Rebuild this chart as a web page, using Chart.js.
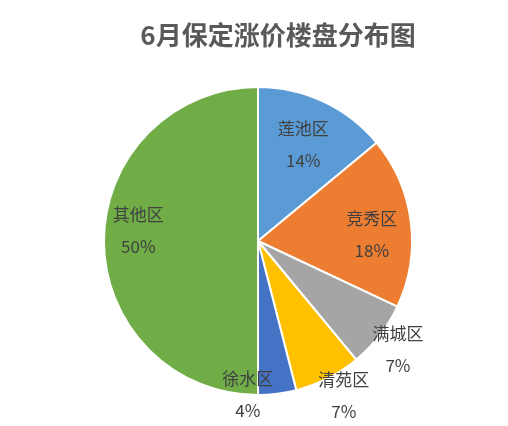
<!DOCTYPE html>
<html>
<head>
<meta charset="utf-8">
<script src="https://cdn.jsdelivr.net/npm/chart.js@4"></script>
<style>
  html, body { margin: 0; padding: 0; background: #fff; }
  #wrap { width: 508px; height: 426px; }
</style>
</head>
<body>
<div id="wrap"><canvas id="pieChart"></canvas></div>
<script>
// districts and their share of price-rising projects (%)
const districts = ['莲池区', '竞秀区', '满城区', '清苑区', '徐水区', '其他区'];
const shares = [14, 18, 7, 7, 4, 50];
const colors = ['#5B9BD5', '#ED7D31', '#A5A5A5', '#FFC000', '#4472C4', '#70AD47'];

// label placement: distance as fraction of radius, plus angle nudge in degrees
const labelDist = [0.69, 0.74, 1.15, 1.15, 1.0, 0.78];
const labelNudge = [0, 4, 0, -2, 11, 5];

const titleText = '6月保定涨价楼盘分布图';

// draws the title and the category / percent labels
const labelsPlugin = {
    id: 'pieLabels',
    afterDraw(chart) {
        const ctx = chart.ctx;
        ctx.save();
        ctx.fillStyle = '#595959';
        ctx.font = 'bold 26px "Noto Sans CJK SC", sans-serif';
        ctx.textAlign = 'center';
        ctx.textBaseline = 'middle';
        ctx.fillText(titleText, 278, 35);

        const meta = chart.getDatasetMeta(0);
        ctx.fillStyle = '#404040';
        ctx.font = '17px "Noto Sans CJK SC", sans-serif';
        meta.data.forEach((arc, i) => {
            const p = arc.getProps(['x', 'y', 'startAngle', 'endAngle', 'outerRadius'], true);
            const mid = (p.startAngle + p.endAngle) / 2 + labelNudge[i] * Math.PI / 180;
            const r = p.outerRadius * labelDist[i];
            const x = p.x + Math.cos(mid) * r;
            const y = p.y + Math.sin(mid) * r;
            ctx.fillText(districts[i], x, y - 16);
            ctx.fillText(shares[i] + '%', x, y + 16);
        });
        ctx.restore();
    }
};

const ctx = document.getElementById('pieChart').getContext('2d');
new Chart(ctx, {
    type: 'pie',
    data: {
        labels: districts,
        datasets: [{
            data: shares,
            backgroundColor: colors,
            borderColor: '#ffffff',
            borderWidth: 2
        }]
    },
    options: {
        responsive: true,
        maintainAspectRatio: false,
        animation: false,
        layout: {
            padding: { top: 86, bottom: 30, left: 102, right: 94 }
        },
        plugins: {
            legend: { display: false },
            tooltip: { enabled: false },
            title: { display: false }
        }
    },
    plugins: [labelsPlugin]
});
</script>
</body>
</html>
